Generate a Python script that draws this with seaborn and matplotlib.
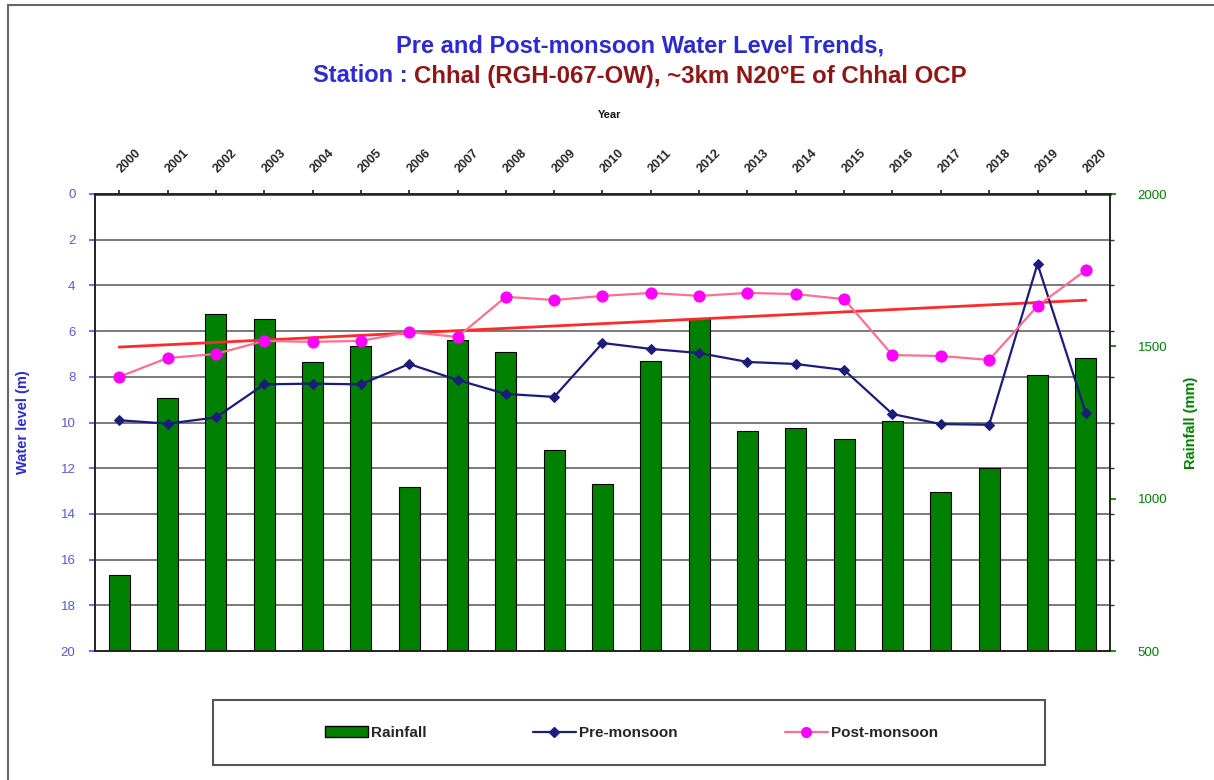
import numpy as np
import pandas as pd
import matplotlib
matplotlib.use("Agg")
import matplotlib.pyplot as plt
import seaborn as sns
from matplotlib.patches import Rectangle, Patch
from matplotlib.lines import Line2D

# data
years = ["2000", "2001", "2002", "2003", "2004", "2005", "2006", "2007", "2008", "2009", "2010",
         "2011", "2012", "2013", "2014", "2015", "2016", "2017", "2018", "2019", "2020"]
rainfall_mm = [750, 1330, 1606, 1590, 1449, 1501, 1038, 1521, 1481, 1160, 1048,
               1452, 1590, 1222, 1232, 1196, 1255, 1022, 1101, 1406, 1462]
pre_monsoon = [9.9, 10.05, 9.78, 8.33, 8.3, 8.33, 7.44, 8.14, 8.75, 8.88, 6.52,
               6.78, 6.96, 7.35, 7.44, 7.7, 9.63, 10.07, 10.1, 3.06, 9.58]
post_monsoon = [8.0, 7.18, 7.0, 6.43, 6.47, 6.43, 6.04, 6.26, 4.5, 4.64, 4.46,
                4.33, 4.46, 4.33, 4.38, 4.6, 7.05, 7.09, 7.26, 4.9, 3.33]
level_ticks = [0, 2, 4, 6, 8, 10, 12, 14, 16, 18, 20]
rain_ticks = [500, 1000, 1500, 2000]

df = pd.DataFrame({"year": years, "rain": rainfall_mm,
                   "pre": pre_monsoon, "post": post_monsoon})
df["pos"] = np.arange(len(df))

sns.set_theme(style="white")
plt.rcParams["font.family"] = ["Liberation Sans", "DejaVu Sans"]

W, H = 1214, 780
fig = plt.figure(figsize=(W / 100, H / 100), dpi=100)
ax = fig.add_axes([95 / W, 1 - 651 / H, (1110 - 95) / W, (651 - 194) / H])
ax2 = ax.twinx()

BLUE = "#2b2bd0"
DRED = "#8e1616"
GREEN = "#008000"

# rainfall bars (drawn on the bottom axes, scale on the right)
sns.barplot(data=df, x="year", y="rain", color=GREEN, saturation=1,
            edgecolor="black", linewidth=0.8, width=0.44, ax=ax)
ax.set_xlim(-0.5, len(years) - 0.5)
ax.set_ylim(500, 2000)
ax.yaxis.tick_right()
ax.yaxis.set_label_position("right")
ax.set_yticks(rain_ticks)
ax.set_yticklabels([str(v) for v in rain_ticks])
ax.set_yticks(np.linspace(500, 2000, 11), minor=True)
ax.grid(which="minor", axis="y", color="#555555", linewidth=1.1)
ax.set_axisbelow(True)
ax.tick_params(axis="y", which="major", colors=GREEN, labelsize=9.5, length=4, pad=16)
ax.tick_params(axis="y", which="minor", length=3, color="#333333")
ax.set_ylabel("Rainfall (mm)", color=GREEN, fontsize=10.5, fontweight="bold", labelpad=12)

# years on top
ax.xaxis.tick_top()
ax.set_xlabel("")
ax.tick_params(axis="x", labelsize=9, length=3, pad=14)
for lab in ax.get_xticklabels():
    lab.set_rotation(45)
    lab.set_rotation_mode("anchor")
    lab.set_fontweight("bold")
    lab.set_ha("left")
    lab.set_va("center")
fig.text(610 / W, 1 - 115 / H, "Year", fontsize=8, fontweight="bold",
         ha="center", va="center", color="#111111")

# water levels (left scale, inverted)
sns.regplot(x=df["pos"], y=df["post"], scatter=False, ci=None, truncate=True,
            color="#ff2a2a", line_kws={"linewidth": 2}, ax=ax2)
sns.lineplot(data=df, x="pos", y="pre", ax=ax2, color="#1c1c7a", linewidth=1.6,
             marker="D", markersize=5.5, markeredgecolor="#1c1c7a", markerfacecolor="#1c1c7a")
sns.lineplot(data=df, x="pos", y="post", ax=ax2, color="#ff6f8f", linewidth=1.6,
             marker="o", markersize=8, markeredgecolor="#ff00ff", markerfacecolor="#ff00ff")
ax2.set_ylim(20, 0)
ax2.set_xlim(-0.5, len(years) - 0.5)
ax2.yaxis.tick_left()
ax2.yaxis.set_label_position("left")
ax2.set_yticks(level_ticks)
ax2.set_yticklabels([str(v) for v in level_ticks])
ax2.tick_params(axis="y", colors="#5a5ad8", labelsize=9.5, length=4, pad=10)
ax2.set_ylabel("Water level (m)", color=BLUE, fontsize=10.5, fontweight="bold", labelpad=22)
ax2.set_xlabel("")

for a in (ax, ax2):
    for s in a.spines.values():
        s.set_color("#222222")
        s.set_linewidth(1.2)
ax.spines["top"].set_linewidth(1.8)

# titles
fig.text(640 / W, 1 - 46 / H, "Pre and Post-monsoon Water Level Trends,", color=BLUE,
         fontsize=17, fontweight="bold", ha="center", va="center")
t1 = fig.text(313 / W, 1 - 76 / H, "Station : ", color=BLUE,
              fontsize=17, fontweight="bold", ha="left", va="center")
fig.canvas.draw()
bb = t1.get_window_extent(fig.canvas.get_renderer())
fig.text(bb.x1 / W, 1 - 76 / H, "Chhal (RGH-067-OW), ~3km N20°E of Chhal OCP", color=DRED,
         fontsize=17.3, fontweight="bold", ha="left", va="center")

# legend box with three entries
fig.patches.append(Rectangle((213 / W, 1 - 765 / H), (1045 - 213) / W, 65 / H,
                             transform=fig.transFigure, fill=False,
                             edgecolor="#555555", linewidth=1.5))
entries = [
    (Patch(facecolor=GREEN, edgecolor="black"), "Rainfall", 325),
    (Line2D([], [], color="#1c1c7a", marker="D", markersize=5, linewidth=1.6), "Pre-monsoon", 533),
    (Line2D([], [], color="#ff6f8f", marker="o", markersize=7, markerfacecolor="#ff00ff",
            markeredgecolor="#ff00ff", linewidth=1.6), "Post-monsoon", 785),
]
for handle, label, xpix in entries:
    fig.legend([handle], [label], loc="center left", bbox_to_anchor=(xpix / W, 1 - 733 / H),
               frameon=False, handlelength=2.8, handletextpad=0.2, borderpad=0,
               borderaxespad=0, prop={"weight": "bold", "size": 11})

# chart area border
fig.add_artist(Line2D([8 / W, 8 / W], [0, 1 - 5 / H], transform=fig.transFigure,
                      color="#666666", linewidth=1.5))
fig.add_artist(Line2D([8 / W, 1], [1 - 5 / H, 1 - 5 / H], transform=fig.transFigure,
                      color="#666666", linewidth=1.5))

fig.savefig("out.png", dpi=100)
